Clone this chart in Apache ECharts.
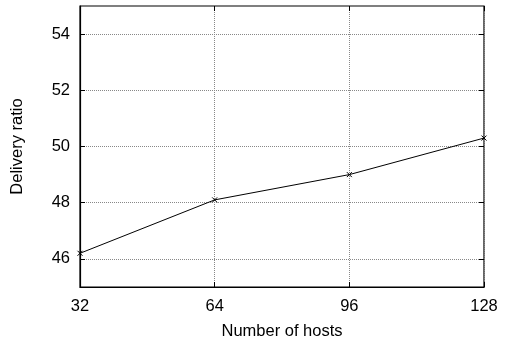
<!DOCTYPE html>
<html>
<head>
<meta charset="utf-8">
<script src="https://cdn.jsdelivr.net/npm/echarts@6/dist/echarts.min.js"></script>
<style>html,body{margin:0;padding:0;background:#fff;}#c{width:511px;height:345px;}</style>
</head>
<body>
<div id="c"></div>
<script>
const hosts = [32, 64, 96, 128];
const deliveryRatio = [46.2, 48.1, 49.0, 50.3];
const xTicks = [32, 64, 96, 128];
const yTicks = [46, 48, 50, 52, 54];
const yMin = 45, yMax = 55;

const font = 'Liberation Sans, Arial, sans-serif';
const fs = 16.5;
const chart = echarts.init(document.getElementById('c'), null, {renderer: 'canvas'});
const gridLine = {show: true, lineStyle: {color: '#888', type: [1, 1], width: 1}};
chart.setOption({
  animation: false,
  backgroundColor: '#fff',
  grid: {left: 80, top: 6, right: 27, bottom: 55, show: true, borderColor: '#000', borderWidth: 1.2},
  xAxis: [{
    type: 'value', min: 32, max: 128, interval: 32, position: 'bottom',
    name: 'Number of hosts', nameLocation: 'middle', nameGap: 36,
    nameTextStyle: {color: '#000', fontSize: fs, fontFamily: font},
    axisLine: {show: true, lineStyle: {color: '#000', width: 1.2}},
    axisTick: {show: true, inside: true, length: 5, lineStyle: {color: '#000'}, customValues: xTicks},
    axisLabel: {color: '#000', fontSize: fs, fontFamily: font, margin: 11, customValues: xTicks},
    splitLine: gridLine
  }, {
    type: 'value', min: 32, max: 128, interval: 32, position: 'top',
    axisLine: {show: false},
    axisTick: {show: true, inside: true, length: 5, lineStyle: {color: '#000'}, customValues: xTicks},
    axisLabel: {show: false}, splitLine: {show: false}
  }],
  yAxis: [{
    type: 'value', min: yMin, max: yMax, interval: 1, position: 'left',
    name: 'Delivery ratio', nameLocation: 'middle', nameGap: 54, nameRotate: 90,
    nameTextStyle: {color: '#000', fontSize: fs, fontFamily: font},
    axisLine: {show: true, lineStyle: {color: '#000', width: 1.2}},
    axisTick: {show: true, inside: true, length: 5, lineStyle: {color: '#000'}, customValues: yTicks},
    axisLabel: {color: '#000', fontSize: fs, fontFamily: font, margin: 10, customValues: yTicks},
    splitLine: gridLine
  }, {
    type: 'value', min: yMin, max: yMax, interval: 1, position: 'right',
    axisLine: {show: false},
    axisTick: {show: true, inside: true, length: 5, lineStyle: {color: '#000'}, customValues: yTicks},
    axisLabel: {show: false}, splitLine: {show: false}
  }],
  series: [{
    type: 'line',
    data: hosts.map((h, i) => [h, deliveryRatio[i]]),
    symbol: 'path://M0,0L10,10M10,0L0,10',
    symbolSize: 5,
    showSymbol: true,
    itemStyle: {color: '#000', borderColor: '#000', borderWidth: 1},
    lineStyle: {color: '#000', width: 1}
  }]
});
</script>
</body>
</html>
